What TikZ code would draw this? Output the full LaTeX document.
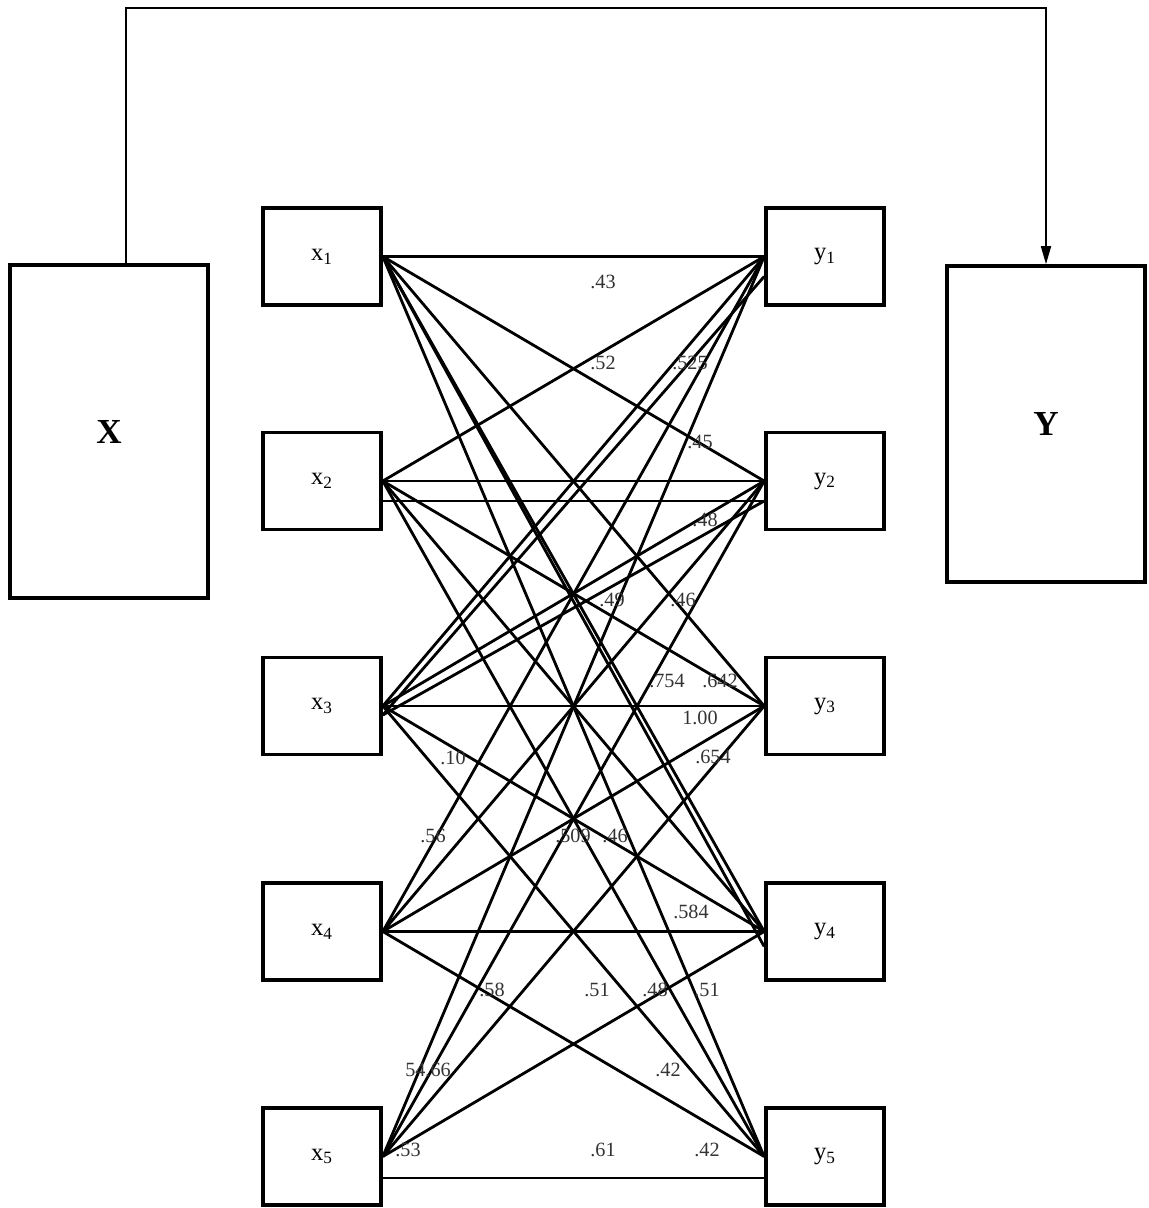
\documentclass[tikz,border=0pt]{standalone}
\usepackage{fontspec}
\setmainfont{Liberation Serif}
\usetikzlibrary{arrows.meta}

\begin{document}
\begin{tikzpicture}[
  x=0.02cm, y=-0.02cm,
  >={Triangle[length=3.6mm,width=2mm]},
  every node/.style={font=\fontsize{11.5}{13}\selectfont},
  bigbox/.style={draw, line width=2.1pt, minimum width=3.96cm, font=\fontsize{20}{22}\selectfont\bfseries},
  varbox/.style={draw, line width=2.1pt, minimum width=2.36cm, minimum height=1.94cm, font=\fontsize{14}{16}\selectfont},
  link/.style={line width=1.6pt},
  conn/.style={line width=1pt},
  coef/.style={text=black!80, inner sep=0pt}
]
\useasboundingbox (0,0) rectangle (1149,1208);

%--------------------------------------------------
% outer blocks
%--------------------------------------------------
\node[bigbox, minimum height=6.66cm] (X) at (109,431.5) {X};
\node[bigbox, minimum height=6.32cm] (Y) at (1046,424) {Y};

\coordinate (top) at (600,8);
\draw[conn, ->] ([xshift=0.34cm]X.north) |- (top) -| (Y.north);

%--------------------------------------------------
% x and y variables
%--------------------------------------------------
\node[varbox] (x1) at (322,256.5) {x\textsubscript{1}};
\node[varbox] (x2) at (322,481)   {x\textsubscript{2}};
\node[varbox] (x3) at (322,706)   {x\textsubscript{3}};
\node[varbox] (x4) at (322,931.5) {x\textsubscript{4}};
\node[varbox] (x5) at (322,1156.5){x\textsubscript{5}};

\node[varbox] (y1) at (825,256.5) {y\textsubscript{1}};
\node[varbox] (y2) at (825,481)   {y\textsubscript{2}};
\node[varbox] (y3) at (825,706)   {y\textsubscript{3}};
\node[varbox] (y4) at (825,931.5) {y\textsubscript{4}};
\node[varbox] (y5) at (825,1156.5){y\textsubscript{5}};

%--------------------------------------------------
% links x_i -> y_j
%--------------------------------------------------
\foreach \i in {1,...,5}
  \foreach \j in {1,...,5}{
    \ifnum\i\j=55\else
      \draw[link] (x\i.east) -- (y\j.west);
    \fi
  }

% extra links
\draw[link] ([yshift=-0.4cm]x2.east) -- ([yshift=-0.4cm]y2.west);
\draw[link] ([yshift=-0.43cm]x5.east) -- ([yshift=-0.43cm]y5.west);
\draw[link] ([yshift=-0.18cm]x3.east) -- ([yshift=-0.4cm]y1.west);
\draw[link] ([yshift=-0.18cm]x3.east) -- ([yshift=-0.4cm]y2.west);
\draw[link] (x1.east) -- ([yshift=-0.3cm]y4.west);

%--------------------------------------------------
% coefficients
%--------------------------------------------------
\node[coef] (c01) at (603,282)  {.43};
\node[coef] (c02) at (603,363)  {.52};
\node[coef] (c03) at (690,363)  {.525};
\node[coef] (c04) at (700,442)  {.45};
\node[coef] (c05) at (705,520)  {.48};
\node[coef] (c06) at (612,600)  {.49};
\node[coef] (c07) at (683,600)  {.46};
\node[coef] (c08) at (667,681)  {.754};
\node[coef] (c09) at (720,681)  {.642};
\node[coef] (c10) at (700,718)  {1.00};
\node[coef] (c11) at (713,757)  {.654};
\node[coef] (c12) at (453,758)  {.10};
\node[coef] (c13) at (433,836)  {.56};
\node[coef] (c14) at (573,836)  {.509};
\node[coef] (c15) at (615,836)  {.46};
\node[coef] (c16) at (691,912)  {.584};
\node[coef] (c17) at (492,990)  {.58};
\node[coef] (c18) at (597,990)  {.51};
\node[coef] (c19) at (655,990)  {.48};
\node[coef] (c20) at (707,990)  {.51};
\node[coef] (c21) at (428,1070) {54.66};
\node[coef] (c22) at (668,1070) {.42};
\node[coef] (c23) at (408,1150) {.53};
\node[coef] (c24) at (603,1150) {.61};
\node[coef] (c25) at (707,1150) {.42};

\end{tikzpicture}
\end{document}
